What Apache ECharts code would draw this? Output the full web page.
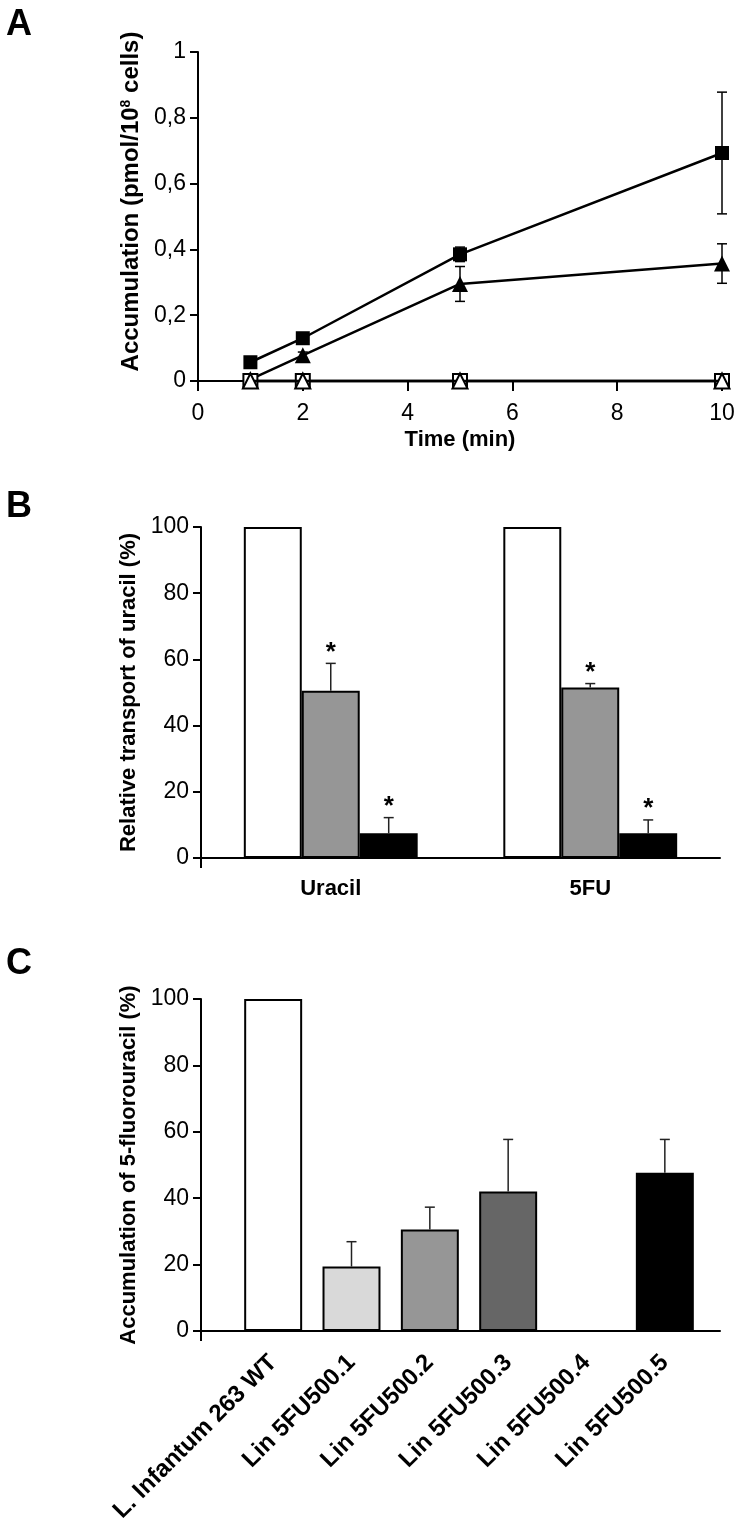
<!DOCTYPE html>
<html><head><meta charset="utf-8">
<script src="https://cdn.jsdelivr.net/npm/echarts@6/dist/echarts.min.js"></script>
<style>html,body{margin:0;padding:0;background:#fff}#c{width:738px;height:1529px}</style>
</head><body><div id="c"></div>
<script>
// ---------- Panel A data ----------
const timeTicks = [0, 2, 4, 6, 8, 10];
const times = [1, 2, 5, 10];
const filledSquare = [0.057, 0.13, 0.385, 0.693];
const filledSquareErr = [0.006, 0.012, 0.022, 0.185];
const filledTriangle = [0.005, 0.078, 0.295, 0.357];
const filledTriangleErr = [0, 0.01, 0.053, 0.06];
const openSquare = [0, 0, 0, 0];
const openTriangle = [0, 0, 0, 0];
// ---------- Panel B data ----------
const bCategories = ['Uracil', '5FU'];
const bWhite = [100, 100];
const bWhiteErr = [0, 0];
const bGray = [50.5, 51.5];
const bGrayErr = [8.3, 1.2];
const bBlack = [7.5, 7.5];
const bBlackErr = [4.7, 4];
const bWhiteStar = [false, false];
const bGrayStar = [true, true];
const bBlackStar = [true, true];
// ---------- Panel C data ----------
const cCategories = ['L. Infantum 263 WT', 'Lin 5FU500.1', 'Lin 5FU500.2', 'Lin 5FU500.3', 'Lin 5FU500.4', 'Lin 5FU500.5'];
const cValues = [100, 19.4, 30.6, 42, null, 47.7];
const cErr = [0, 7.5, 6.7, 15.7, null, 10];
const cColors = ['#ffffff', '#d9d9d9', '#969696', '#666666', '#ffffff', '#000000'];

const FONT = 'Liberation Sans, Arial, Helvetica, sans-serif';
const chart = echarts.init(document.getElementById('c'), null, {renderer: 'canvas'});

const axisLineStyle = {show: true, lineStyle: {color: '#000', width: 2}};
const tickStyle = {show: true, length: 8, lineStyle: {color: '#000', width: 2}};
const tickLabel = {color: '#000', fontSize: 23, fontFamily: FONT};
const nameStyle = {color: '#000', fontSize: 22, fontWeight: 'bold', fontFamily: FONT};
const letterStyle = {fontSize: 36, fontWeight: 'bold', color: '#000', fontFamily: FONT};

function errA(params, api) {
  const x = api.value(0), y = api.value(1), e = api.value(2);
  if (!e) return null;
  const top = api.coord([x, y + e]), bot = api.coord([x, y - e]);
  const w = 5, st = {stroke: '#000', lineWidth: 1.5};
  return {type: 'group', children: [
    {type: 'line', shape: {x1: top[0], y1: top[1], x2: bot[0], y2: bot[1]}, style: st},
    {type: 'line', shape: {x1: top[0] - w, y1: top[1], x2: top[0] + w, y2: top[1]}, style: st},
    {type: 'line', shape: {x1: bot[0] - w, y1: bot[1], x2: bot[0] + w, y2: bot[1]}, style: st}
  ]};
}

function makeErrUp(offsetIndex, groupSize, gapRatio) {
  return function (params, api) {
    const idx = api.value(0), v = api.value(1), e = api.value(2), star = api.value(3);
    if (v == null || isNaN(v)) return null;
    const band = api.size([1, 0])[0];
    const barW = band * (1 - gapRatio) / groupSize;
    const off = (offsetIndex - (groupSize - 1) / 2) * barW;
    const base = api.coord([idx, v]);
    const topP = api.coord([idx, v + (e || 0)]);
    const x = base[0] + off;
    const st = {stroke: '#222', lineWidth: 1.5};
    const children = [];
    if (e) {
      children.push({type: 'line', shape: {x1: x, y1: base[1], x2: x, y2: topP[1]}, style: st});
      children.push({type: 'line', shape: {x1: x - 5, y1: topP[1], x2: x + 5, y2: topP[1]}, style: st});
    }
    if (star) {
      children.push({type: 'text', style: {text: '*', x: x, y: topP[1] + 2, textAlign: 'center', textVerticalAlign: 'bottom',
        font: 'bold 26px ' + FONT, fill: '#000'}});
    }
    return {type: 'group', children: children};
  };
}

const gridB = {left: 201, top: 527, width: 519, height: 331};
const gridCFrame = {left: 201, top: 999, width: 519, height: 332};
const gridCBars = {left: 234, top: 999, width: 470, height: 332};

const option = {
  animation: false,
  backgroundColor: '#fff',
  textStyle: {fontFamily: FONT},
  title: [
    {text: 'A', left: 6, top: 7, padding: 0, textStyle: letterStyle},
    {text: 'B', left: 6, top: 489, padding: 0, textStyle: letterStyle},
    {text: 'C', left: 6, top: 946, padding: 0, textStyle: letterStyle}
  ],
  grid: [
    {left: 198, top: 52, width: 524, height: 329, outerBoundsMode: 'none'},
    Object.assign({outerBoundsMode: 'none'}, gridB),
    Object.assign({outerBoundsMode: 'none'}, gridB),
    Object.assign({outerBoundsMode: 'none'}, gridCFrame),
    Object.assign({outerBoundsMode: 'none'}, gridCBars)
  ],
  xAxis: [
    {type: 'value', gridIndex: 0, min: timeTicks[0], max: timeTicks[timeTicks.length - 1], interval: 2,
      axisLine: Object.assign({onZero: false}, axisLineStyle), axisTick: Object.assign({}, tickStyle, {length: 10}), splitLine: {show: false},
      axisLabel: Object.assign({margin: 21}, tickLabel),
      name: 'Time (min)', nameLocation: 'middle', nameGap: 48, nameTextStyle: nameStyle},
    {type: 'category', gridIndex: 1, data: ['', ''], boundaryGap: false,
      axisLine: Object.assign({onZero: false}, axisLineStyle),
      axisTick: Object.assign({}, tickStyle, {length: 10, interval: function (i) { return i === 0; }}),
      axisLabel: {show: false}, splitLine: {show: false}},
    {type: 'category', gridIndex: 2, data: bCategories,
      axisLine: {show: false}, axisTick: {show: false},
      axisLabel: {color: '#000', fontSize: 22, fontWeight: 'bold', fontFamily: FONT, margin: 20}},
    {type: 'category', gridIndex: 3, data: ['', ''], boundaryGap: false,
      axisLine: Object.assign({onZero: false}, axisLineStyle),
      axisTick: Object.assign({}, tickStyle, {length: 10, interval: function (i) { return i === 0; }}),
      axisLabel: {show: false}, splitLine: {show: false}},
    {type: 'category', gridIndex: 4, data: cCategories,
      axisLine: {show: false}, axisTick: {show: false},
      axisLabel: {color: '#000', fontSize: 24, fontWeight: 'bold', fontFamily: FONT, rotate: 45, margin: 28, interval: 0}}
  ],
  yAxis: [
    {type: 'value', gridIndex: 0, min: 0, max: 1, interval: 0.2,
      axisLine: axisLineStyle, axisTick: tickStyle, splitLine: {show: false},
      axisLabel: Object.assign({margin: 12, formatter: function (v) { return String(Math.round(v * 10) / 10).replace('.', ','); }}, tickLabel),
      name: 'Accumulation (pmol/10{sup|8} cells)', nameLocation: 'middle', nameRotate: 90, nameGap: 54,
      nameTextStyle: Object.assign({}, nameStyle, {fontSize: 24, padding: [0, 0, 0, 30],
        rich: {sup: {fontSize: 14, fontWeight: 'bold', fontFamily: FONT, color: '#000', verticalAlign: 'top'}}})},
    {type: 'value', gridIndex: 1, min: 0, max: 100, interval: 20,
      axisLine: axisLineStyle, axisTick: tickStyle, splitLine: {show: false},
      axisLabel: Object.assign({margin: 12}, tickLabel),
      name: 'Relative transport of uracil (%)', nameLocation: 'middle', nameRotate: 90, nameGap: 55, nameTextStyle: nameStyle},
    {type: 'value', gridIndex: 2, min: 0, max: 100, show: false},
    {type: 'value', gridIndex: 3, min: 0, max: 100, interval: 20,
      axisLine: axisLineStyle, axisTick: tickStyle, splitLine: {show: false},
      axisLabel: Object.assign({margin: 12}, tickLabel),
      name: 'Accumulation of 5-fluorouracil (%)', nameLocation: 'middle', nameRotate: 90, nameGap: 55, nameTextStyle: nameStyle},
    {type: 'value', gridIndex: 4, min: 0, max: 100, show: false}
  ],
  series: [
    {type: 'custom', xAxisIndex: 0, yAxisIndex: 0, renderItem: errA, z: 2, clip: false, encode: {x: 0, y: 1},
      data: times.map(function (t, i) { return [t, filledSquare[i], filledSquareErr[i]]; })},
    {type: 'custom', xAxisIndex: 0, yAxisIndex: 0, renderItem: errA, z: 2, clip: false, encode: {x: 0, y: 1},
      data: times.map(function (t, i) { return [t, filledTriangle[i], filledTriangleErr[i]]; })},
    {type: 'line', xAxisIndex: 0, yAxisIndex: 0, z: 3, symbol: 'rect', symbolSize: 14, showAllSymbol: true,
      lineStyle: {color: '#000', width: 2.5}, itemStyle: {color: '#000'},
      data: times.map(function (t, i) { return [t, filledSquare[i]]; })},
    {type: 'line', xAxisIndex: 0, yAxisIndex: 0, z: 3, symbol: 'triangle', symbolSize: 16, showAllSymbol: true,
      lineStyle: {color: '#000', width: 2.5}, itemStyle: {color: '#000'},
      data: times.map(function (t, i) { return [t, filledTriangle[i]]; })},
    {type: 'line', xAxisIndex: 0, yAxisIndex: 0, z: 4, symbol: 'rect', symbolSize: 14, showAllSymbol: true, clip: false,
      lineStyle: {color: '#000', width: 2.5}, itemStyle: {color: '#fff', borderColor: '#000', borderWidth: 2},
      data: times.map(function (t, i) { return [t, openSquare[i]]; })},
    {type: 'line', xAxisIndex: 0, yAxisIndex: 0, z: 5, symbol: 'triangle', symbolSize: 15, showAllSymbol: true, clip: false,
      lineStyle: {color: '#000', width: 2.5}, itemStyle: {color: '#fff', borderColor: '#000', borderWidth: 2},
      data: times.map(function (t, i) { return [t, openTriangle[i]]; })},
    {type: 'bar', xAxisIndex: 2, yAxisIndex: 2, barGap: '0%', barCategoryGap: '33%', data: bWhite,
      itemStyle: {color: '#ffffff', borderColor: '#000', borderWidth: 2}},
    {type: 'bar', xAxisIndex: 2, yAxisIndex: 2, barGap: '0%', barCategoryGap: '33%', data: bGray,
      itemStyle: {color: '#969696', borderColor: '#000', borderWidth: 2}},
    {type: 'bar', xAxisIndex: 2, yAxisIndex: 2, barGap: '0%', barCategoryGap: '33%', data: bBlack,
      itemStyle: {color: '#000000', borderColor: '#000', borderWidth: 2}},
    {type: 'custom', xAxisIndex: 2, yAxisIndex: 2, renderItem: makeErrUp(0, 3, 0.33), z: 5, clip: false, encode: {x: 0, y: 1},
      data: bCategories.map(function (c, i) { return [i, bWhite[i], bWhiteErr[i], bWhiteStar[i] ? 1 : 0]; })},
    {type: 'custom', xAxisIndex: 2, yAxisIndex: 2, renderItem: makeErrUp(1, 3, 0.33), z: 5, clip: false, encode: {x: 0, y: 1},
      data: bCategories.map(function (c, i) { return [i, bGray[i], bGrayErr[i], bGrayStar[i] ? 1 : 0]; })},
    {type: 'custom', xAxisIndex: 2, yAxisIndex: 2, renderItem: makeErrUp(2, 3, 0.33), z: 5, clip: false, encode: {x: 0, y: 1},
      data: bCategories.map(function (c, i) { return [i, bBlack[i], bBlackErr[i], bBlackStar[i] ? 1 : 0]; })},
    {type: 'bar', xAxisIndex: 4, yAxisIndex: 4, barCategoryGap: '26%',
      data: cValues.map(function (v, i) { return {value: v, itemStyle: {color: cColors[i]}}; }),
      itemStyle: {borderColor: '#000', borderWidth: 2}},
    {type: 'custom', xAxisIndex: 4, yAxisIndex: 4, renderItem: makeErrUp(0, 1, 0.26), z: 5, clip: false, encode: {x: 0, y: 1},
      data: cCategories.map(function (c, i) { return [i, cValues[i], cErr[i], 0]; })}
  ]
};
chart.setOption(option);
</script>
</body></html>
